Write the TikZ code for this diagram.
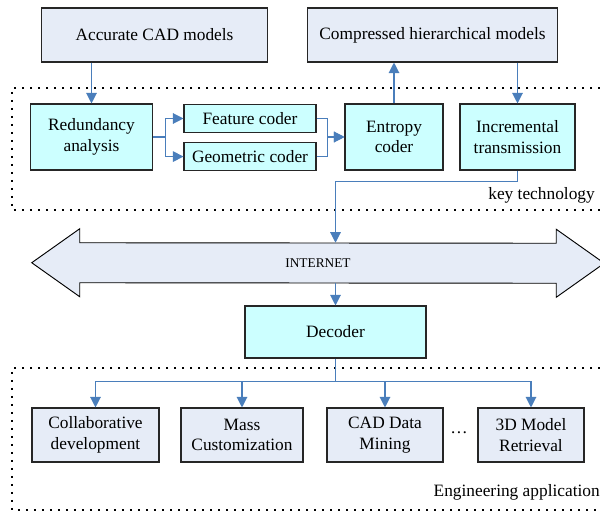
\documentclass[tikz,border=0pt]{standalone}
\usepackage{fontspec}
\setmainfont{Liberation Serif}
\usetikzlibrary{positioning}
\usetikzlibrary{backgrounds}
\usetikzlibrary{arrows.meta}

\definecolor{boxlav}{HTML}{E6ECF7}
\definecolor{boxcyan}{HTML}{CCFFFF}
\definecolor{linkblue}{HTML}{4A7EBB}

\tikzset{
  textfont/.style={font=\fontsize{13}{15.5}\selectfont},
  topbox/.style={draw=black!85,fill=boxlav,line width=0.8pt,minimum height=40.5pt,align=center,textfont},
  techbox/.style={draw=black!85,fill=boxcyan,line width=0.8pt,minimum height=49.5pt,align=center,textfont},
  coderbox/.style={techbox,minimum height=21pt,minimum width=99pt},
  appbox/.style={topbox},
  flow/.style={draw=linkblue,line width=0.9pt,->},
  link/.style={draw=linkblue,line width=0.9pt},
  dotline/.style={line width=1.3pt,dash pattern=on 1.3pt off 4.7pt}
}

\begin{document}
\begin{tikzpicture}[x=0.75pt,y=-0.75pt,>={Triangle[length=8pt,width=8pt]}]
  \useasboundingbox (0,0) rectangle (600,513);
  % areas
  \draw[dotline] (600,88) -- (12,88) -- (12,210) -- (600,210);
  \draw[dotline] (600,368) -- (12,368) -- (12,510) -- (600,510);
  % models
  \node[topbox,minimum width=170pt](accurate) at (154.5,35) {Accurate CAD models};
  \node[topbox,minimum width=187pt](compressed) at (432.5,35) {Compressed hierarchical models};
  % key technology
  \node[techbox,minimum width=92pt](redundancy) at (91.5,137) {Redundancy\\analysis};
  \node[coderbox](feature) at (250,118.5) {Feature coder};
  \node[coderbox,below=6.75pt of feature](geometric) {Geometric coder};
  \node[techbox,minimum width=73.5pt](entropy) at (394,137) {Entropy\\coder};
  \node[techbox,minimum width=86.25pt](incremental) at (517.5,137) {Incremental\\transmission};
  \node[anchor=east,inner sep=0pt,textfont](keytech) at (595,195) {key technology};
  % internet
  \node[minimum width=357pt,minimum height=30pt,font=\fontsize{10}{12}\selectfont](internet) at (318,263) {INTERNET};
  \begin{scope}[on background layer]
    \draw[fill=boxlav,line width=0.7pt] (internet.north west) -- ++(0,-14) -- ++(-48,34) -- ++(48,34)
      -- ++(0,-14) -- (internet.south east) -- ++(0,14) -- ++(48,-34) -- ++(-48,-34) -- ++(0,14) -- cycle;
  \end{scope}
  \node[techbox,minimum width=135.75pt,minimum height=39pt](decoder) at (335.5,332) {Decoder};
  % engineering application
  \node[appbox,minimum width=95.25pt](collab) at (95.5,435) {Collaborative\\development};
  \node[appbox,minimum width=91.5pt](mass) at (242,435) {Mass\\Customization};
  \node[appbox,minimum width=87pt](mining) at (385,435) {CAD Data\\Mining};
  \node[appbox,minimum width=79.5pt](retrieval) at (531,435) {3D Model\\Retrieval};
  \node[textfont,inner sep=0pt](more) at (459,433) {\dots};
  \node[anchor=east,inner sep=0pt,textfont](engapp) at (600,492) {Engineering application};
  % connectors
  \draw[flow] (accurate.south -| redundancy.north) -- (redundancy.north);
  \draw[flow] (entropy.north) -- (entropy.north |- compressed.south);
  \draw[flow] (incremental.north |- compressed.south) -- (incremental.north);
  \draw[flow] (redundancy.east) -- ++(12,0) |- (feature.west);
  \draw[flow] (redundancy.east) -- ++(12,0) |- (geometric.west);
  \draw[flow] (feature.east) -- ++(11,0) |- (entropy.west);
  \draw[flow] (geometric.east) -- ++(11,0) |- (entropy.west);
  \draw[flow] (incremental.south) -- ++(0,11) -| (decoder.north |- internet.north);
  \draw[flow] (decoder.north |- internet.south) -- (decoder.north);
  \draw[link] (decoder.south) -- ++(0,23) coordinate (split);
  \foreach \app in {collab,mass,mining,retrieval}
    \draw[flow] (split) -| (\app.north);
\end{tikzpicture}
\end{document}
